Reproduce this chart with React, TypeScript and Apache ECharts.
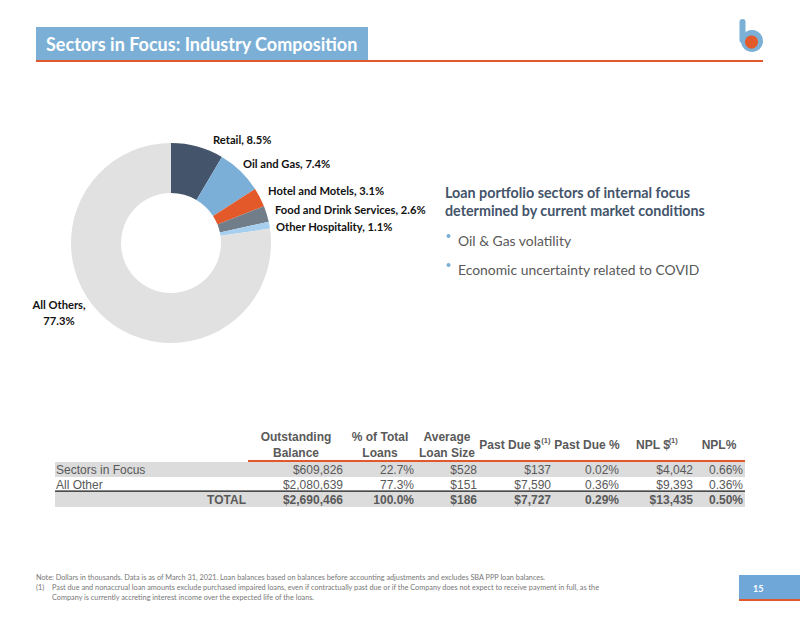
import React, { useEffect, useRef } from "react";
import * as echarts from "echarts";

// ---- Pie data ----
const pieNames = ["Retail", "Oil and Gas", "Hotel and Motels", "Food and Drink Services", "Other Hospitality", "All Others"];
const pieValues = [8.5, 7.4, 3.1, 2.6, 1.1, 77.3];
const pieColors = ["#44546A", "#7BAFD8", "#E3592A", "#717D89", "#A6CFEF", "#E1E1E1"];

// ---- Table data ----
const rowLabels = ["Sectors in Focus", "All Other", "TOTAL"];
const outstandingBalance = [609826, 2080639, 2690466];
const pctOfTotalLoans = [22.7, 77.3, 100.0];
const avgLoanSize = [528, 151, 186];
const pastDueAmt = [137, 7590, 7727];
const pastDuePct = [0.02, 0.36, 0.29];
const nplAmt = [4042, 9393, 13435];
const nplPct = [0.66, 0.36, 0.5];

const headerLines = [
  ["Outstanding", "Balance"],
  ["% of Total", "Loans"],
  ["Average", "Loan Size"],
  ["Past Due $"],
  ["Past Due %"],
  ["NPL $"],
  ["NPL%"],
];
const headerFootnoteCols = [3, 5];

const titleText = "Sectors in Focus: Industry Composition";
const sideHeading = ["Loan portfolio sectors of internal focus", "determined by current market conditions"];
const bullets = ["Oil & Gas volatility", "Economic uncertainty related to COVID"];
const footnotes = [
  "Note: Dollars in thousands. Data is as of March 31, 2021. Loan balances based on balances before accounting adjustments and excludes SBA PPP loan balances.",
  "Past due and nonaccrual loan amounts exclude purchased impaired loans, even if contractually past due or if the Company does not expect to receive payment in full, as the",
  "Company is currently accreting interest income over the expected life of the loans.",
];
const pageNumber = "15";

// ---- layout (not data) ----
const labelPos: Array<[number, number, string]> = [
  [213, 139, "left"],
  [243, 163, "left"],
  [268, 190, "left"],
  [275, 209, "left"],
  [276, 226, "left"],
  [59, 312, "center"],
];
const colRight = [343, 414, 477, 551, 619, 693, 743];
const colHeadCenter = [296, 380, 447, 514, 587, 657, 719];
const rowY = [470, 485, 500];

const money = (v: number) => "$" + v.toLocaleString("en-US");
const pct1 = (v: number) => v.toFixed(1) + "%";
const pct2 = (v: number) => v.toFixed(2) + "%";

const FONT = "Liberation Sans, Arial, sans-serif";
const LATO = "Lato, sans-serif";

function txt(text: string, x: number, y: number, o: any = {}) {
  const align = o.align || "left";
  return {
    type: "text",
    x,
    y,
    silent: true,
    z: 10,
    style: {
      text,
      fill: o.fill || "#595959",
      fontSize: o.size || 12,
      fontFamily: o.family || FONT,
      fontWeight: o.weight || "normal",
      align,
      textAlign: align,
      verticalAlign: "middle",
      textVerticalAlign: "middle",
    },
  };
}

export default function App() {
  const ref = useRef<HTMLDivElement>(null);
  useEffect(() => {
    const chart = echarts.init(ref.current!, null, { renderer: "svg" });
    const g: any[] = [];

    // Title bar
    g.push({ type: "rect", shape: { x: 36, y: 27, width: 332, height: 33 }, style: { fill: "#7BAFD6" }, silent: true });
    g.push({ type: "rect", shape: { x: 36, y: 60, width: 727, height: 2 }, style: { fill: "#E0582B" }, silent: true });
    g.push(txt(titleText, 46, 44, { fill: "#FFFFFF", size: 18, family: LATO, weight: "bold" }));

    // Logo
    g.push({ type: "rect", shape: { x: 739.5, y: 19, width: 6, height: 24, r: 3 }, style: { fill: "#7BAFD6" }, silent: true });
    g.push({ type: "circle", shape: { cx: 752, cy: 41, r: 11 }, style: { fill: "#7BAFD6" }, silent: true });
    g.push({ type: "circle", shape: { cx: 751.5, cy: 42, r: 6.5 }, style: { fill: "#E3592A" }, silent: true });

    // Side text
    sideHeading.forEach((t, i) =>
      g.push(txt(t, 445, 192 + i * 18, { fill: "#44546A", size: 14.3, family: LATO, weight: "bold" }))
    );
    bullets.forEach((t, i) => {
      g.push({ type: "circle", shape: { cx: 448.5, cy: 236 + i * 29, r: 2 }, style: { fill: "#7BAFD6" }, silent: true });
      g.push(txt(t, 458, 240 + i * 29, { fill: "#595959", size: 13.9, family: LATO }));
    });

    // Table bands and rules
    g.push({ type: "rect", shape: { x: 55, y: 462, width: 690, height: 15 }, style: { fill: "#DCDCDC" }, silent: true });
    g.push({ type: "rect", shape: { x: 55, y: 492, width: 690, height: 15 }, style: { fill: "#DCDCDC" }, silent: true });
    g.push({ type: "rect", shape: { x: 248, y: 460, width: 497, height: 2 }, style: { fill: "#E0582B" }, silent: true });
    g.push({ type: "rect", shape: { x: 55, y: 490.5, width: 690, height: 1.3 }, style: { fill: "#111111" }, silent: true });

    // Headers
    headerLines.forEach((lines, c) => {
      if (lines.length === 2) {
        g.push(txt(lines[0], colHeadCenter[c], 437, { align: "center", weight: "bold" }));
        g.push(txt(lines[1], colHeadCenter[c], 453, { align: "center", weight: "bold" }));
      } else {
        const hasFn = headerFootnoteCols.indexOf(c) >= 0;
        if (hasFn) {
          const cx = colHeadCenter[c] - 4;
          g.push(txt(lines[0], cx, 445, { align: "center", weight: "bold" }));
          const approxW = lines[0].length * 6.25;
          g.push(txt("(1)", cx + approxW / 2, 440, { size: 7.5, weight: "bold" }));
        } else {
          g.push(txt(lines[0], colHeadCenter[c], 445, { align: "center", weight: "bold" }));
        }
      }
    });

    // Rows
    const cols = [
      outstandingBalance.map(money),
      pctOfTotalLoans.map(pct1),
      avgLoanSize.map(money),
      pastDueAmt.map(money),
      pastDuePct.map(pct2),
      nplAmt.map(money),
      nplPct.map(pct2),
    ];
    rowLabels.forEach((lab, r) => {
      const isTotal = r === rowLabels.length - 1;
      if (isTotal) g.push(txt(lab, 246, rowY[r], { align: "right", weight: "bold" }));
      else g.push(txt(lab, 56, rowY[r], { fill: "#595959" }));
      cols.forEach((col, c) => {
        g.push(txt(col[r], colRight[c], rowY[r], { align: "right", weight: isTotal ? "bold" : "normal" }));
      });
    });

    // Footnotes
    const fn = { size: 7.3, family: LATO, fill: "#777777" };
    g.push(txt(footnotes[0], 36, 577, fn));
    g.push(txt("(1)", 36, 587, fn));
    g.push(txt(footnotes[1], 52, 587, fn));
    g.push(txt(footnotes[2], 52, 597, fn));

    // Page number box
    g.push({ type: "rect", shape: { x: 739, y: 575, width: 61, height: 24 }, style: { fill: "#6FA8D8" }, silent: true });
    g.push({ type: "rect", shape: { x: 739, y: 599, width: 61, height: 2 }, style: { fill: "#E0582B" }, silent: true });
    g.push(txt(pageNumber, 753, 588, { fill: "#FFFFFF", size: 9, family: LATO, weight: "bold" }));

    chart.setOption({
      animation: false,
      backgroundColor: "#FFFFFF",
      graphic: { elements: g },
      series: [
        {
          type: "pie",
          center: [171, 243],
          radius: [50, 100],
          startAngle: 90,
          clockwise: true,
          silent: true,
          data: pieNames.map((n, i) => ({ name: n, value: pieValues[i], itemStyle: { color: pieColors[i] } })),
          label: {
            show: true,
            position: "outside",
            overflow: "none",
            edgeDistance: 0,
            bleedMargin: 0,
            color: "#111111",
            fontFamily: LATO,
            fontWeight: "bold",
            fontSize: 11.2,
            lineHeight: 16,
            formatter: (p: any) =>
              p.dataIndex === pieNames.length - 1
                ? `${p.name},\n${p.value.toFixed(1)}%`
                : `${p.name}, ${p.value.toFixed(1)}%`,
          },
          labelLine: { show: false },
          labelLayout: (p: any) => {
            const pos = labelPos[p.dataIndex];
            return { x: pos[0], y: pos[1], align: pos[2], verticalAlign: "middle" };
          },
        },
      ],
    });
    return () => chart.dispose();
  }, []);
  return <div ref={ref} style={{ position: "fixed", left: 0, top: 0, width: 800, height: 618 }} />;
}
